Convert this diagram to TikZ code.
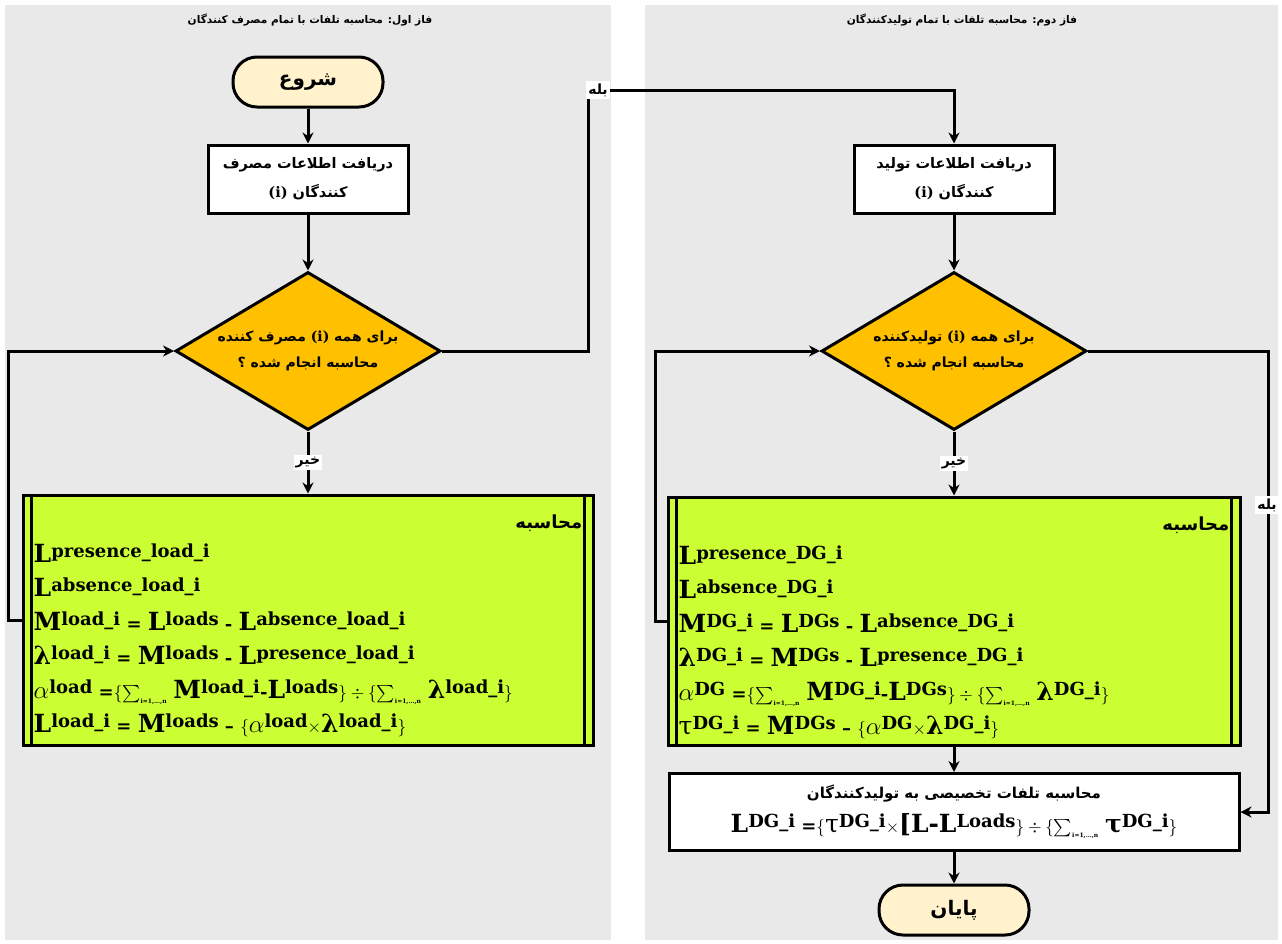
\documentclass[tikz,border=0pt]{standalone}
\usepackage{amsmath}
\usepackage{fontspec}
\setmainfont{DejaVu Serif}
\newfontfamily\arabicfont[Script=Arabic]{DejaVu Sans}
\TeXXeTstate=1
\usetikzlibrary{arrows.meta,positioning,shapes.geometric}
\definecolor{panel}{RGB}{233,233,233}
\definecolor{cream}{RGB}{255,242,204}
\definecolor{amber}{RGB}{255,192,0}
\definecolor{lime}{RGB}{204,255,51}
\tikzset{
  term/.style={draw,line width=3pt,fill=cream,rounded corners=24pt,
    minimum width=150pt,minimum height=50pt,
    font=\arabicfont\bfseries\fontsize{20}{22}\selectfont},
  proc/.style={draw,line width=3pt,fill=white,minimum width=200pt,
    minimum height=68pt,align=center,
    font=\arabicfont\bfseries\fontsize{14.5}{29}\selectfont},
  dec/.style={diamond,draw,line width=3pt,fill=amber,aspect=1.68,inner sep=0pt,
    minimum width=265pt,minimum height=158pt,align=center,
    font=\arabicfont\bfseries\fontsize{14}{26}\selectfont},
  calcbox/.style={draw,line width=3pt,fill=lime,minimum width=570pt,minimum height=250pt},
  frm/.style={anchor=north west,align=left,inner sep=0pt,
    font=\bfseries\fontsize{18}{34}\selectfont},
  hdr/.style={anchor=north east,inner sep=0pt,font=\arabicfont\bfseries\fontsize{18}{20}\selectfont},
  arr/.style={-{Stealth[length=11pt,width=11pt]},line width=3pt},
  lbl/.style={fill=white,inner sep=2pt,font=\arabicfont\bfseries\fontsize{14}{16}\selectfont},
  ttl/.style={font=\arabicfont\bfseries\fontsize{10.6}{12}\selectfont},
}
\newcommand{\fa}[1]{{\beginR #1\endR}}
\newcommand{\li}{\beginL{\rmfamily(i)}\endL}
\newcommand{\V}[2]{{\fontsize{25}{25}\selectfont #1}\raisebox{.3em}{#2}}
\newcommand{\Sm}{$\sum\nolimits_{\mbox{\fontsize{6}{6}\selectfont i=1,\ldots,n}}$}

\begin{document}
\begin{tikzpicture}[x=1pt,y=-1pt]
  \useasboundingbox (0,0) rectangle (1282,943);
  \fill[panel] (5,5) rectangle (611,940);
  \fill[panel] (645,5) rectangle (1278,940);
  \node[ttl] (t1) at (310,20) {\fa{فاز اول: محاسبه تلفات با تمام مصرف کنندگان}};
  \node[ttl] (t2) at (962,20) {\fa{فاز دوم: محاسبه تلفات با تمام تولیدکنندگان}};

  % phase one
  \node[term] (start) at (308,82) {\fa{شروع}};
  \node[proc] (get1) at (308,179) {\fa{دریافت اطلاعات مصرف}\\\fa{کنندگان \li}};
  \node[dec] (dec1) at (308,351) {\fa{برای همه \li\ مصرف کننده}\\\fa{محاسبه انجام شده ؟}};
  \node[calcbox] (calc1) at (308,620) {};
  \draw[line width=3pt] ([xshift=10pt]calc1.north west) -- ([xshift=10pt]calc1.south west)
    ([xshift=-10pt]calc1.north east) -- ([xshift=-10pt]calc1.south east);
  \node[hdr] (h1) at ([shift={(-12,21)}]calc1.north east) {\fa{محاسبه}};
  \node[frm] (f1) at ([shift={(12,50)}]calc1.north west) {%
    \V{L}{presence\_load\_i}\\
    \V{L}{absence\_load\_i}\\
    \V{M}{load\_i} = \V{L}{loads} - \V{L}{absence\_load\_i}\\
    \V{λ}{load\_i} = \V{M}{loads} - \V{L}{presence\_load\_i}\\
    \V{$\alpha$}{load} =$\{$\Sm\ \V{M}{load\_i}-\V{L}{loads}$\}\div\{$\Sm\ \V{λ}{load\_i}$\}$\\
    \V{L}{load\_i} = \V{M}{loads} -- $\{$\V{$\alpha$}{load}$\times$\V{λ}{load\_i}$\}$};

  % phase two
  \node[proc] (get2) at (954,179) {\fa{دریافت اطلاعات تولید}\\\fa{کنندگان \li}};
  \node[dec] (dec2) at (954,351) {\fa{برای همه \li\ تولیدکننده}\\\fa{محاسبه انجام شده ؟}};
  \node[calcbox,minimum width=572pt,minimum height=248pt] (calc2) at (954,621) {};
  \draw[line width=3pt] ([xshift=10pt]calc2.north west) -- ([xshift=10pt]calc2.south west)
    ([xshift=-10pt]calc2.north east) -- ([xshift=-10pt]calc2.south east);
  \node[hdr] (h2) at ([shift={(-12,21)}]calc2.north east) {\fa{محاسبه}};
  \node[frm] (f2) at ([shift={(12,50)}]calc2.north west) {%
    \V{L}{presence\_DG\_i}\\
    \V{L}{absence\_DG\_i}\\
    \V{M}{DG\_i} = \V{L}{DGs} - \V{L}{absence\_DG\_i}\\
    \V{λ}{DG\_i} = \V{M}{DGs} - \V{L}{presence\_DG\_i}\\
    \V{$\alpha$}{DG} =$\{$\Sm\ \V{M}{DG\_i}-\V{L}{DGs}$\}\div\{$\Sm\ \V{λ}{DG\_i}$\}$\\
    \V{\mdseries τ}{DG\_i} = \V{M}{DGs} -- $\{$\V{$\alpha$}{DG}$\times$\V{λ}{DG\_i}$\}$};
  \node[proc,minimum width=570pt,minimum height=77pt,
    font=\arabicfont\bfseries\fontsize{15}{34}\selectfont] (alloc) at (954,812)
    {\fa{محاسبه تلفات تخصیصی به تولیدکنندگان}\\
     {\rmfamily\fontsize{18}{34}\selectfont\V{L}{DG\_i} =$\{$\V{\mdseries τ}{DG\_i}$\times${\fontsize{25}{25}\selectfont[L-}\V{L}{Loads}$\}\div\{$\Sm\ \V{τ}{DG\_i}$\}$}};
  \node[term] (end) at (954,910) {\fa{پایان}};

  % connectors
  \coordinate (yes1) at (588,90);
  \coordinate (yes2) at (1268,812);
  \draw[arr] (start) -- (get1);
  \draw[arr] (get1) -- (dec1);
  \draw[arr] (dec1) -- node[lbl] (no1) {\fa{خیر}} (calc1);
  \draw[arr] (calc1.west) -- ++(-13,0) |- (dec1.west);
  \draw[arr] (dec1.east) -| (yes1) -| (get2.north);
  \node[lbl] (y1) at (598,90) {\fa{بله}};
  \draw[arr] (get2) -- (dec2);
  \draw[arr] (dec2) -- node[lbl] (no2) {\fa{خیر}} (calc2);
  \draw[arr] (calc2.west) -- ++(-11,0) |- (dec2.west);
  \draw[arr] (dec2.east) -| (yes2) -- (alloc.east);
  \node[lbl] (y2) at (1267,505) {\fa{بله}};
  \draw[arr] (calc2) -- (alloc);
  \draw[arr] (alloc) -- (end);
\end{tikzpicture}
\end{document}
